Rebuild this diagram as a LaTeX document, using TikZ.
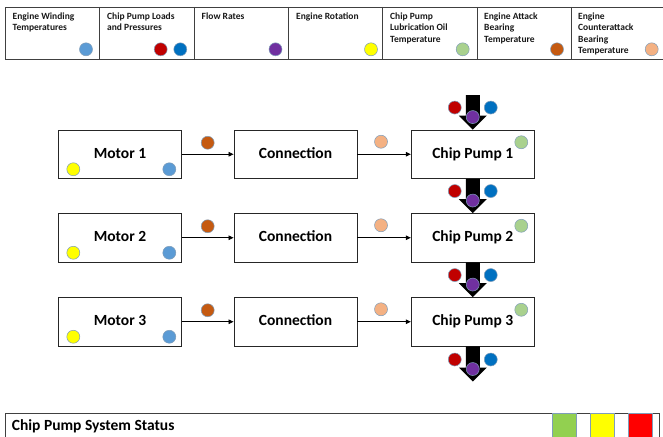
\documentclass[tikz,border=0pt]{standalone}
\usepackage{fontspec}
\setmainfont{Carlito}
\usetikzlibrary{calc,arrows.meta}
\definecolor{cWind}{HTML}{5B9BD5}
\definecolor{cRed}{HTML}{C00000}
\definecolor{cBlue}{HTML}{0070C0}
\definecolor{cPurple}{HTML}{7030A0}
\definecolor{cYellow}{HTML}{FFFF00}
\definecolor{cGreen}{HTML}{A9D18E}
\definecolor{cBrown}{HTML}{C55A11}
\definecolor{cPeach}{HTML}{F4B183}
\definecolor{sGreen}{HTML}{92D050}
\definecolor{sRed}{HTML}{FF0000}
\definecolor{edgegray}{HTML}{404040}
\definecolor{dotedge}{HTML}{7F9DB9}
\newcommand\blockarr[2]{\fill[black] ($(#1)+(-7,0)$) -- ($(#2)+(-7,-14)$) -- ($(#2)+(-14,-14)$) -- (#2) -- ($(#2)+(14,-14)$) -- ($(#2)+(7,-14)$) -- ($(#1)+(7,0)$) -- cycle;}
\begin{document}
\begin{tikzpicture}[x=1pt,y=-1pt,
  dot/.style={circle,inner sep=0pt,minimum size=13pt,fill=#1,draw=dotedge,line width=0.5pt},
  box/.style={draw=black!85,line width=0.9pt,minimum width=123pt,minimum height=48.5pt,inner sep=0pt,font=\fontsize{15.5}{18}\selectfont\bfseries,text height=10.5pt,text depth=3pt},
  legtext/.style={anchor=north west,inner sep=0pt,align=left,text=black!90,font=\fontsize{9.5}{11.4}\selectfont\bfseries},
  flow/.style={line width=0.7pt,-{Triangle[length=5pt,width=4.5pt]}},
  legline/.style={draw=edgegray,line width=0.9pt},
  sq/.style={draw=dotedge,line width=0.8pt,minimum width=24pt,minimum height=30pt,inner sep=0pt,anchor=north west},
]
\useasboundingbox (0,0) rectangle (663,436);
\clip (0,0) rectangle (663,436);
\fill[white] (0,0) rectangle (663,436);
% legend table
\draw[legline] (5,59) -- (5,7) -- (670,7);
\draw[legline] (5,59) -- (670,59);
\foreach \xx in {99.5,194.3,288.7,382,477.5,571.7} \draw[legline] (\xx,7) -- (\xx,59);
\node[legtext] (l1) at (12.5,12.6) {Engine Winding\\Temperatures};
\node[legtext] (l2) at (107,12.6) {Chip Pump Loads\\and Pressures};
\node[legtext] (l3) at (201.5,12.6) {Flow Rates};
\node[legtext] (l4) at (296,12.6) {Engine Rotation};
\node[legtext] (l5) at (390,12.6) {Chip Pump\\Lubrication Oil\\Temperature};
\node[legtext] (l6) at (484,12.6) {Engine Attack\\Bearing\\Temperature};
\node[legtext] (l7) at (578,12.6) {Engine\\Counterattack\\Bearing\\Temperature};
\node[dot=cWind] (d1) at (86,49.3) {};
\node[dot=cRed] (d2a) at (160.7,49.3) {};
\node[dot=cBlue] (d2b) at (180.3,49.3) {};
\node[dot=cPurple] (d3) at (275.5,49.3) {};
\node[dot=cYellow] (d4) at (371,49.3) {};
\node[dot=cGreen] (d5) at (462.7,49.3) {};
\node[dot=cBrown] (d6) at (557,49.3) {};
\node[dot=cPeach] (d7) at (651.7,49.3) {};
% main rows
\foreach \i/\yy in {1/154.25,2/237.75,3/321.75}{
  \node[box] (m\i) at (120,\yy) {Motor \i};
  \node[box] (c\i) at (295.5,\yy) {Connection};
  \node[box] (p\i) at (472.75,\yy) {Chip Pump \i};
  \draw[flow] (m\i.east) -- (c\i.west);
  \draw[flow] (c\i.east) -- (p\i.west);
  \node[dot=cYellow] (my\i) at ($(m\i.center)+(-46.7,15)$) {};
  \node[dot=cWind] (mb\i) at ($(m\i.center)+(49.3,15)$) {};
  \node[dot=cBrown] (br\i) at (207.7,\yy-11.5) {};
  \node[dot=cPeach] (pe\i) at (381,\yy-12.5) {};
  \node[dot=cGreen] (pg\i) at ($(p\i.center)+(48.5,-12)$) {};
}
\coordinate (tin) at (472.75,95);
\coordinate (tout) at (472.75,381.5);
\blockarr{tin}{p1.north}
\blockarr{p1.south}{p2.north}
\blockarr{p2.south}{p3.north}
\blockarr{p3.south}{tout}
\foreach \tip/\k in {p1.north/a,p2.north/b,p3.north/c,tout/d}{
  \node[dot=cRed] (ar\k) at ($(\tip)+(-18,-22)$) {};
  \node[dot=cBlue] (ab\k) at ($(\tip)+(18,-22)$) {};
  \node[dot=cPurple] (ap\k) at ($(\tip)+(0,-12.5)$) {};
}
% status bar
\draw[legline] (5,440) -- (5,413) -- (659,413) -- (659,440);
\node[anchor=base west,inner sep=0pt,font=\fontsize{15.5}{18}\selectfont\bfseries] (st) at (11.7,430) {Chip Pump System Status};
\node[sq,fill=sGreen] (sg) at (552,413.3) {};
\node[sq,fill=cYellow] (sy) at (590,413.3) {};
\node[sq,fill=sRed] (sr) at (628,413.3) {};
\end{tikzpicture}
\end{document}
